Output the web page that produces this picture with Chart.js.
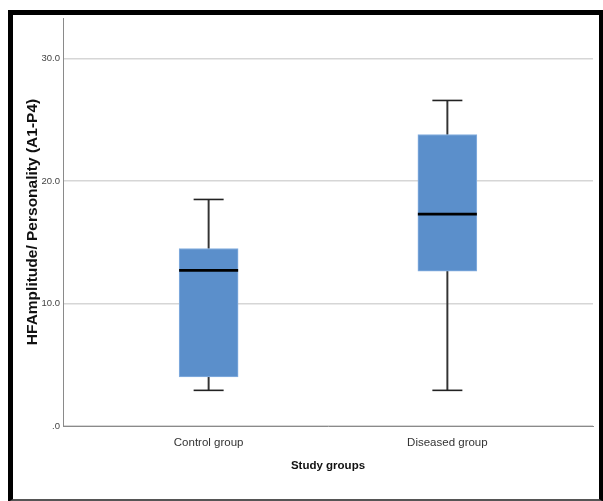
<!DOCTYPE html>
<html>
<head>
<meta charset="utf-8">
<script src="https://cdn.jsdelivr.net/npm/chart.js@4/dist/chart.umd.min.js"></script>
<style>
    html, body { margin: 0; padding: 0; background: #fff; }
    #wrap { position: relative; width: 603px; height: 501px; }
    #chartCanvas { position: absolute; left: 0; top: 0; }
    #frame {
        position: absolute; left: 8px; top: 10px; width: 586px; height: 484px;
        border-left: 5px solid #000; border-top: 5px solid #000;
        border-right: 5px solid #000; border-bottom: 3px solid #555;
        pointer-events: none;
    }
</style>
</head>
<body>
<div id="wrap">
    <canvas id="chartCanvas" width="603" height="501"></canvas>
    <div id="frame"></div>
</div>
<script>
// box plot summary per group
const groups = ['Control group', 'Diseased group'];
const groupPos = [1, 2];
const whiskerMin = [2.91, 2.91];
const lowerQuartile = [4.0, 12.64];
const medians = [12.70, 17.29];
const upperQuartile = [14.49, 23.79];
const whiskerMax = [18.49, 26.57];
const yTicks = [0, 10, 20, 30];

const sans = "'Liberation Sans', Arial, sans-serif";

const floating = (lo, hi) => groupPos.map((x, i) => ({ x: x, y: [lo[i], hi[i]] }));
const points = (vals) => groupPos.map((x, i) => ({ x: x, y: vals[i] }));

const ctx = document.getElementById('chartCanvas').getContext('2d');

new Chart(ctx, {
    type: 'bar',
    data: {
        datasets: [
            {
                label: 'box',
                data: floating(lowerQuartile, upperQuartile),
                backgroundColor: '#5b8fcb',
                borderColor: '#86afe0',
                borderWidth: 1,
                borderSkipped: false,
                barThickness: 59,
                grouped: false,
                order: 3
            },
            {
                label: 'lower whisker',
                data: floating(whiskerMin, lowerQuartile),
                backgroundColor: '#333',
                barThickness: 1.3,
                grouped: false,
                order: 4
            },
            {
                label: 'upper whisker',
                data: floating(upperQuartile, whiskerMax),
                backgroundColor: '#333',
                barThickness: 1.3,
                grouped: false,
                order: 4
            },
            {
                type: 'line',
                label: 'caps max',
                data: points(whiskerMax),
                showLine: false,
                pointStyle: 'line',
                pointRadius: 15,
                pointBorderWidth: 1.6,
                pointBorderColor: '#222',
                order: 1
            },
            {
                type: 'line',
                label: 'caps min',
                data: points(whiskerMin),
                showLine: false,
                pointStyle: 'line',
                pointRadius: 15,
                pointBorderWidth: 1.6,
                pointBorderColor: '#222',
                order: 1
            },
            {
                type: 'line',
                label: 'median',
                data: points(medians),
                showLine: false,
                pointStyle: 'line',
                pointRadius: 29.5,
                pointBorderWidth: 2.6,
                pointBorderColor: '#000',
                order: 0
            }
        ]
    },
    options: {
        responsive: false,
        animation: false,
        events: [],
        layout: { autoPadding: false, padding: { top: 18, right: 10, left: 0, bottom: 0 } },
        plugins: {
            legend: { display: false },
            tooltip: { enabled: false }
        },
        scales: {
            x: {
                type: 'linear',
                offset: false,
                bounds: 'data',
                min: 0.39,
                max: 2.61,
                afterBuildTicks: (axis) => { axis.ticks = groupPos.map(v => ({ value: v })); },
                afterFit: (axis) => { axis.height = 75; },
                grid: { display: false, drawTicks: false, offset: false },
                border: { display: true, color: '#8a8a8a', width: 1 },
                ticks: {
                    padding: 10,
                    color: '#333',
                    font: { family: sans, size: 11.5 },
                    callback: (v) => groups[groupPos.indexOf(v)]
                },
                title: {
                    display: true,
                    text: 'Study groups',
                    color: '#111',
                    font: { family: sans, size: 11.5, weight: 'bold' },
                    padding: { top: 0, bottom: 28 }
                }
            },
            y: {
                min: 0,
                max: 33.3,
                afterBuildTicks: (axis) => { axis.ticks = yTicks.map(v => ({ value: v })); },
                afterFit: (axis) => { axis.width = 63; },
                grid: { color: '#d6d6d6', lineWidth: 1.5, drawTicks: false },
                border: { display: true, color: '#8a8a8a', width: 1 },
                ticks: {
                    padding: 3,
                    color: '#444',
                    font: { family: sans, size: 9.5 },
                    callback: (v) => v === 0 ? '.0' : v.toFixed(1)
                },
                title: {
                    display: true,
                    text: 'HFAmplitude/ Personality (A1-P4)',
                    color: '#111',
                    font: { family: sans, size: 15.5, weight: 'bold' },
                    padding: { top: 23, bottom: 0 }
                }
            }
        }
    }
});
</script>
</body>
</html>
